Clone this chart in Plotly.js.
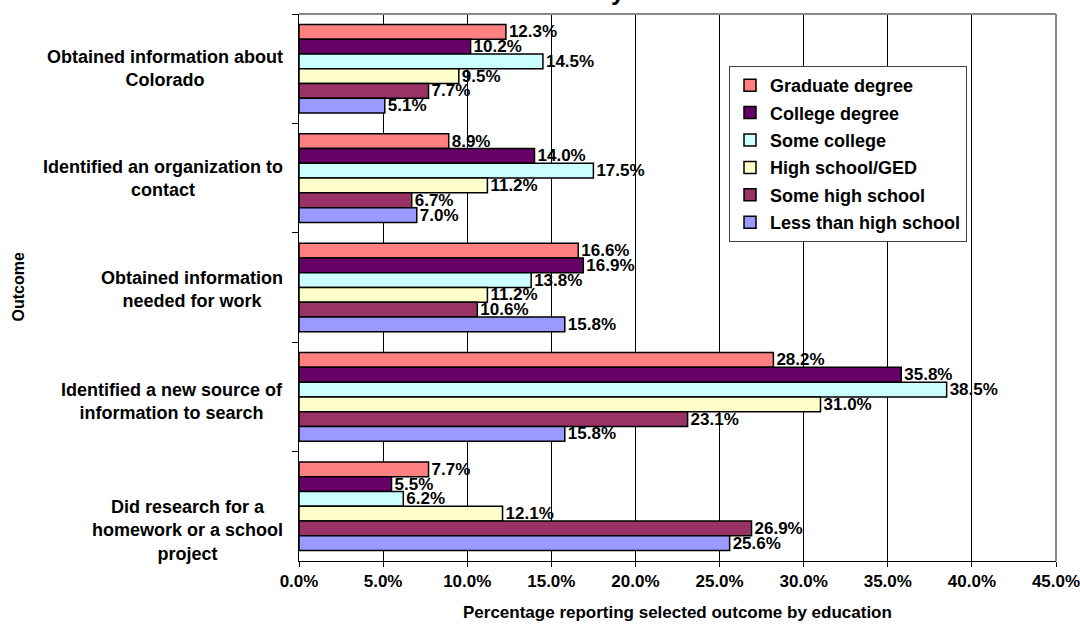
<!DOCTYPE html>
<html>
<head>
<meta charset="utf-8">
<script src="https://cdn.plot.ly/plotly-3.0.1.min.js"></script>
<style>html,body{margin:0;padding:0;background:#fff;}#chart{width:1080px;height:625px;}</style>
</head>
<body>
<div id="chart"></div>
<script>
const categories = [
  "Obtained information about<br>Colorado",
  "Identified an organization to<br>contact",
  "Obtained information<br>needed for work",
  "Identified a new source of<br>information to search",
  "Did research for a<br>homework or a school<br>project"
];
const seriesNames = ["Graduate degree", "College degree", "Some college", "High school/GED", "Some high school", "Less than high school"];
const graduate = [12.3, 8.9, 16.6, 28.2, 7.7];
const college = [10.2, 14.0, 16.9, 35.8, 5.5];
const someCollege = [14.5, 17.5, 13.8, 38.5, 6.2];
const highSchool = [9.5, 11.2, 11.2, 31.0, 12.1];
const someHighSchool = [7.7, 6.7, 10.6, 23.1, 26.9];
const lessThanHS = [5.1, 7.0, 15.8, 15.8, 25.6];
const seriesValues = [graduate, college, someCollege, highSchool, someHighSchool, lessThanHS];
const colors = ["#FF8080", "#660066", "#CCFFFF", "#FFFFCC", "#993366", "#9999FF"];
const titleText = "Internet Outcomes by Education";
const xTitle = "Percentage reporting selected outcome by education";
const yTitle = "Outcome";

const FONT = "Liberation Sans, Arial, sans-serif";
const traces = seriesNames.map((name, i) => ({
  type: "bar",
  orientation: "h",
  name: name,
  legendgroup: "g" + i,
  y: categories,
  x: seriesValues[i],
  marker: {color: colors[i], line: {color: "#000", width: 1.5}},
  texttemplate: "<b>%{x:.1f}%</b>",
  textposition: "outside",
  constraintext: "none",
  cliponaxis: false,
  textfont: {family: FONT, size: 17, color: "#000"},
  hoverinfo: "x+y+name"
}));

const labelShift = [0, 0, -2, -5, -24];
const annotations = categories.map((c, i) => ({
  xref: "paper", yref: "y", x: 0, y: c, xanchor: "right", yanchor: "middle",
  xshift: -14, yshift: labelShift[i], align: "center", showarrow: false,
  text: "<b>" + c + "</b>", font: {family: FONT, size: 18, color: "#000"}
}));
annotations.push({
  xref: "paper", yref: "paper", x: 0, y: 0.5, xshift: -281, xanchor: "center", yanchor: "middle",
  textangle: -90, showarrow: false, text: "<b>" + yTitle + "</b>",
  font: {family: FONT, size: 16, color: "#000"}
});
annotations.push({
  xref: "paper", yref: "paper", x: 0.5, y: 0, yshift: -51, xanchor: "center", yanchor: "middle",
  showarrow: false, text: "<b>" + xTitle + "</b>",
  font: {family: FONT, size: 17, color: "#000"}
});
annotations.push({
  xref: "paper", yref: "paper", x: 0.5, xshift: -117, y: 1, yshift: 7, xanchor: "center", yanchor: "bottom",
  showarrow: false, text: "<b>" + titleText + "</b>",
  font: {family: FONT, size: 25, color: "#000"}
});

const layout = {
  width: 1080, height: 625,
  margin: {l: 299, r: 24, t: 14, b: 64},
  paper_bgcolor: "#fff", plot_bgcolor: "#fff",
  barmode: "group", bargap: 0.19, bargroupgap: 0,
  showlegend: true,
  legend: {
    x: (729 - 299) / 757, y: (561 - 66) / 547, xanchor: "left", yanchor: "top",
    bgcolor: "#fff", bordercolor: "#444", borderwidth: 1,
    font: {family: FONT, size: 18, color: "#000", weight: "bold"},
    tracegroupgap: 1, itemclick: false
  },
  xaxis: {
    range: [0, 45], dtick: 5, tick0: 0,
    ticksuffix: "%", tickformat: ".1f",
    showgrid: true, gridcolor: "#000", gridwidth: 1,
    showline: true, linecolor: "#000", linewidth: 1,
    ticks: "outside", ticklen: 5, tickcolor: "#000",
    ticklabeloverflow: "allow",
    tickfont: {family: FONT, size: 17, color: "#000", weight: "bold"},
    zeroline: false, fixedrange: true
  },
  yaxis: {
    type: "category", autorange: "reversed",
    showticklabels: false, showgrid: false,
    showline: true, linecolor: "#000", linewidth: 1,
    ticks: "outside", ticklen: 6, tickcolor: "#000", tickson: "boundaries",
    zeroline: false, fixedrange: true
  },
  shapes: [
    {type: "line", xref: "paper", yref: "paper", x0: 0, x1: 1, y0: 1, y1: 1, line: {color: "#888", width: 2}},
    {type: "line", xref: "paper", yref: "paper", x0: 1, x1: 1, y0: 0, y1: 1, line: {color: "#888", width: 2}}
  ],
  annotations: annotations
};

Plotly.newPlot("chart", traces, layout, {displayModeBar: false, staticPlot: true});
</script>
</body>
</html>
